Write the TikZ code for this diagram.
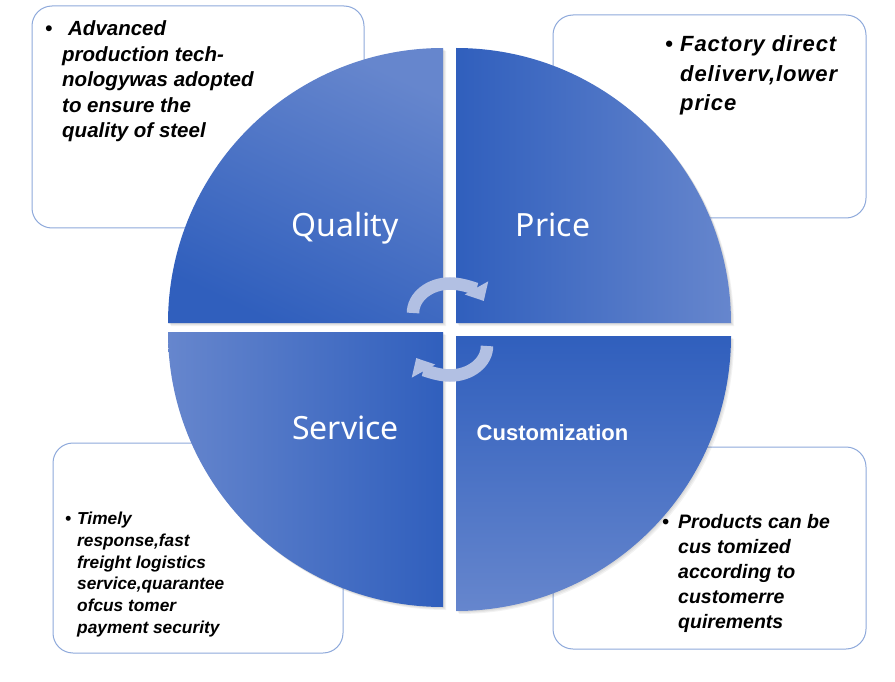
\documentclass[tikz,border=0pt]{standalone}
\usepackage{fontspec}
\setmainfont{Liberation Sans}
\newfontfamily\lblfont{Noto Sans}
\newfontfamily\custfont{Liberation Sans}
\usetikzlibrary{arrows.meta}
\definecolor{qdark}{RGB}{48,95,189}
\definecolor{qlight}{RGB}{102,134,205}
\definecolor{boxline}{RGB}{142,169,219}
\definecolor{cyc}{RGB}{178,192,227}
\begin{document}
\begin{tikzpicture}[x=1pt,y=1pt,
  infobox/.style={draw=boxline, line width=1pt, fill=white, rounded corners=20pt, inner sep=0pt},
  infotext/.style={anchor=north west, align=left, inner sep=0pt, text=black},
  shadowq/.style={fill=black, fill opacity=0.05},
  lbl/.style={text=white, inner sep=0pt, font=\lblfont\fontsize{32}{38}\selectfont},
  cycarrow/.style={draw=cyc, line width=12.5pt, -{Triangle[width=26pt,length=15pt]}},
]
\useasboundingbox (0,0) rectangle (895,-682);
\fill[white] (0,0) rectangle (895,-682);

% text boxes
\node[infobox, minimum width=332pt, minimum height=222pt] (b1) at (198,-117) {};
\node[infobox, minimum width=313pt, minimum height=203pt] (b2) at (709.5,-116.5) {};
\node[infobox, minimum width=290pt, minimum height=210pt] (b3) at (198,-548) {};
\node[infobox, minimum width=313pt, minimum height=202pt] (b4) at (709.5,-548) {};

% shadows of quadrants
\foreach \d in {1,2,3}{
  \fill[shadowq, shift={(\d*1.0,-\d*1.0)}] (443,-323) -- ++(-275,0) arc[start angle=180,end angle=90,radius=275] -- cycle;
  \fill[shadowq, shift={(\d*1.0,-\d*1.0)}] (456,-323) -- ++(0,275) arc[start angle=90,end angle=0,radius=275] -- cycle;
  \fill[shadowq, shift={(\d*1.0,-\d*1.0)}] (443,-332) -- ++(-275,0) arc[start angle=180,end angle=270,radius=275] -- cycle;
  \fill[shadowq, shift={(\d*1.0,-\d*1.0)}] (456,-336) -- ++(275,0) arc[start angle=0,end angle=-90,radius=275] -- cycle;
}

% quadrants
\shade[top color=qlight, bottom color=qdark, shading angle=-25]
  (443,-323) -- ++(-275,0) arc[start angle=180,end angle=90,radius=275] -- cycle;
\shade[left color=qdark, right color=qlight]
  (456,-323) -- ++(0,275) arc[start angle=90,end angle=0,radius=275] -- cycle;
\shade[left color=qlight, right color=qdark]
  (443,-332) -- ++(-275,0) arc[start angle=180,end angle=270,radius=275] -- cycle;
\shade[top color=qdark, bottom color=qlight]
  (456,-336) -- ++(275,0) arc[start angle=0,end angle=-90,radius=275] -- cycle;

% labels
\node[lbl] (quality) at (345,-228) {Quality};
\node[lbl] (price) at (553,-224.5) {Price};
\node[lbl] (service) at (345.6,-427.5) {Service};
\node[text=white, inner sep=0pt, font=\custfont\bfseries\fontsize{22}{26}\selectfont] (custom) at (552.5,-432.5) {Customization};

% cycle arrows
\coordinate (c1s) at (413,-313);
\coordinate (c2s) at (487,-346);
\draw[cycarrow] (c1s) arc[start angle=180,end angle=24,x radius=37,y radius=29.5];
\draw[cycarrow] (c2s) arc[start angle=0,end angle=-156,x radius=37,y radius=29.5];

% box texts
\node[infotext, font=\bfseries\itshape\fontsize{20.5}{25.5}\selectfont] (t1) at (62,-17.5)
 {\llap{\makebox[17pt][l]{•}}\strut\hspace{6pt}Advanced\\ production tech-\\ nologywas adopted\\ to ensure the\\ quality of steel};
\node[infotext, font=\bfseries\itshape\fontsize{22}{29.3}\selectfont\addfontfeatures{LetterSpace=4}] (t2) at (680,-31.2)
 {\llap{\makebox[15pt][l]{•}}\strut Factory direct\\ deliverv,lower\\ price};
\node[infotext, font=\bfseries\itshape\fontsize{17.3}{21.9}\selectfont] (t3) at (77,-508.7)
 {\llap{\makebox[12pt][l]{•}}\strut Timely\\ response,fast\\ freight logistics\\ service,quarantee\\ ofcus tomer\\ payment security};
\node[infotext, font=\bfseries\itshape\fontsize{19.5}{25}\selectfont] (t4) at (678,-510.5)
 {\llap{\makebox[16pt][l]{•}}\strut Products can be\\ cus tomized\\ according to\\ customerre\\ quirements};
\end{tikzpicture}
\end{document}
